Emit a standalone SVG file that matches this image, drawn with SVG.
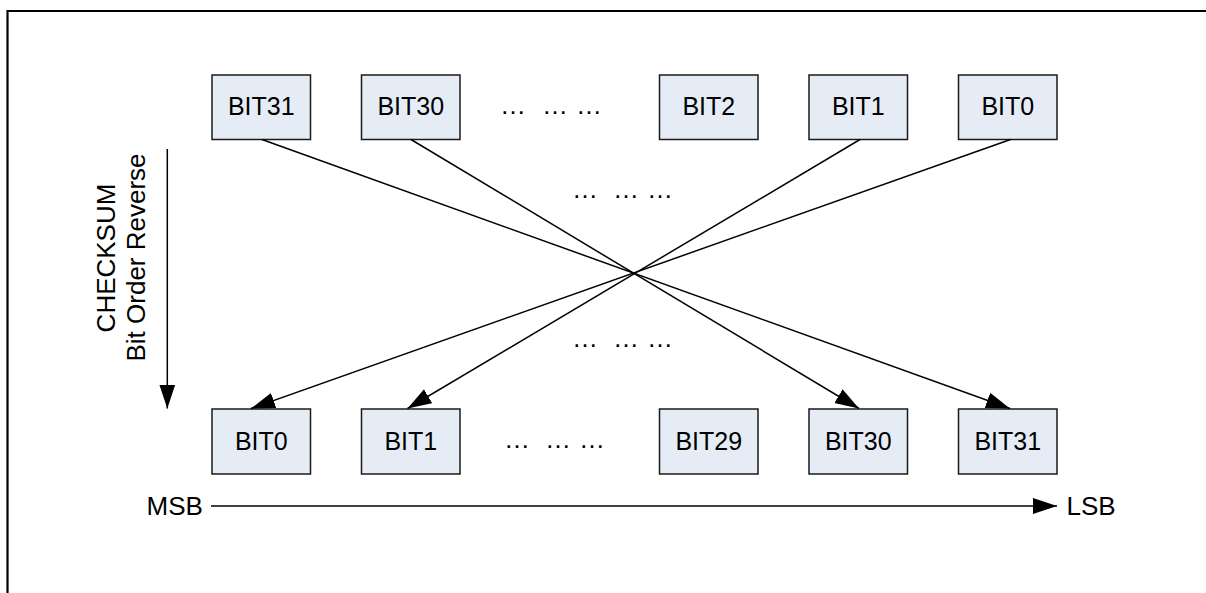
<svg xmlns="http://www.w3.org/2000/svg" width="1206" height="593" viewBox="0 0 1206 593">
<style>
.box rect{fill:#E6ECF6;stroke:#1a1a1a;stroke-width:1.5}
text{font-family:"Liberation Sans",Arial,sans-serif;fill:#000}
.lbl{font-size:25px;text-anchor:middle}
.t26{font-size:26px}
.dots{font-size:26px}
.conn line{stroke:#000;stroke-width:1.5;fill:none}
</style>
<defs>
<marker id="ah" markerUnits="userSpaceOnUse" markerWidth="26" markerHeight="18" viewBox="0 0 26 18" refX="24" refY="9" orient="auto">
<path d="M0,1 L24,9 L0,17 Z" fill="#000"/>
</marker>
</defs>
<rect x="0" y="0" width="1206" height="593" fill="#fff"/>
<path d="M7.5,600 V11 H1215" fill="none" stroke="#000" stroke-width="2.2"/>

<g id="top-bit31" class="box"><rect x="212" y="75" width="98.5" height="64.5"/><text class="lbl" x="261.3" y="115">BIT31</text></g>
<g id="top-bit30" class="box"><rect x="361.5" y="75" width="98.5" height="64.5"/><text class="lbl" x="410.8" y="115">BIT30</text></g>
<g id="top-bit2" class="box"><rect x="659.5" y="75" width="98.5" height="64.5"/><text class="lbl" x="708.8" y="115">BIT2</text></g>
<g id="top-bit1" class="box"><rect x="809" y="75" width="98.5" height="64.5"/><text class="lbl" x="858.3" y="115">BIT1</text></g>
<g id="top-bit0" class="box"><rect x="958.5" y="75" width="98.5" height="64.5"/><text class="lbl" x="1007.8" y="115">BIT0</text></g>

<g id="bot-bit0" class="box"><rect x="212" y="409" width="98.5" height="65"/><text class="lbl" x="261.3" y="450">BIT0</text></g>
<g id="bot-bit1" class="box"><rect x="361.5" y="409" width="98.5" height="65"/><text class="lbl" x="410.8" y="450">BIT1</text></g>
<g id="bot-bit29" class="box"><rect x="659.5" y="409" width="98.5" height="65"/><text class="lbl" x="708.8" y="450">BIT29</text></g>
<g id="bot-bit30" class="box"><rect x="809" y="409" width="98.5" height="65"/><text class="lbl" x="858.3" y="450">BIT30</text></g>
<g id="bot-bit31" class="box"><rect x="958.5" y="409" width="98.5" height="65"/><text class="lbl" x="1007.8" y="450">BIT31</text></g>

<g id="dots">
<text class="dots" y="114"><tspan x="500">…</tspan><tspan x="542">…</tspan><tspan x="576">…</tspan></text>
<text class="dots" y="198"><tspan x="572">…</tspan><tspan x="613">…</tspan><tspan x="647">…</tspan></text>
<text class="dots" y="347"><tspan x="572">…</tspan><tspan x="613">…</tspan><tspan x="647">…</tspan></text>
<text class="dots" y="448"><tspan x="504">…</tspan><tspan x="545">…</tspan><tspan x="579">…</tspan></text>
</g>

<g id="connectors" class="conn">
<line x1="262" y1="139.5" x2="1010" y2="408.5" marker-end="url(#ah)"/>
<line x1="411" y1="139.5" x2="859" y2="408.5" marker-end="url(#ah)"/>
<line x1="860" y1="139.5" x2="407.5" y2="408.5" marker-end="url(#ah)"/>
<line x1="1010.5" y1="139.5" x2="251" y2="408.5" marker-end="url(#ah)"/>
<line x1="167.3" y1="149" x2="167.3" y2="408.5" marker-end="url(#ah)"/>
<line x1="211" y1="506" x2="1057" y2="506" marker-end="url(#ah)"/>
</g>

<g id="side-label">
<text class="t26" text-anchor="middle" transform="translate(144.5,257.5) rotate(-90)">Bit Order Reverse</text>
<text class="t26" text-anchor="middle" transform="translate(115,258) rotate(-90)">CHECKSUM</text>
</g>
<g id="axis-labels">
<text class="t26" x="146.5" y="515">MSB</text>
<text class="t26" x="1066.5" y="515">LSB</text>
</g>
</svg>
